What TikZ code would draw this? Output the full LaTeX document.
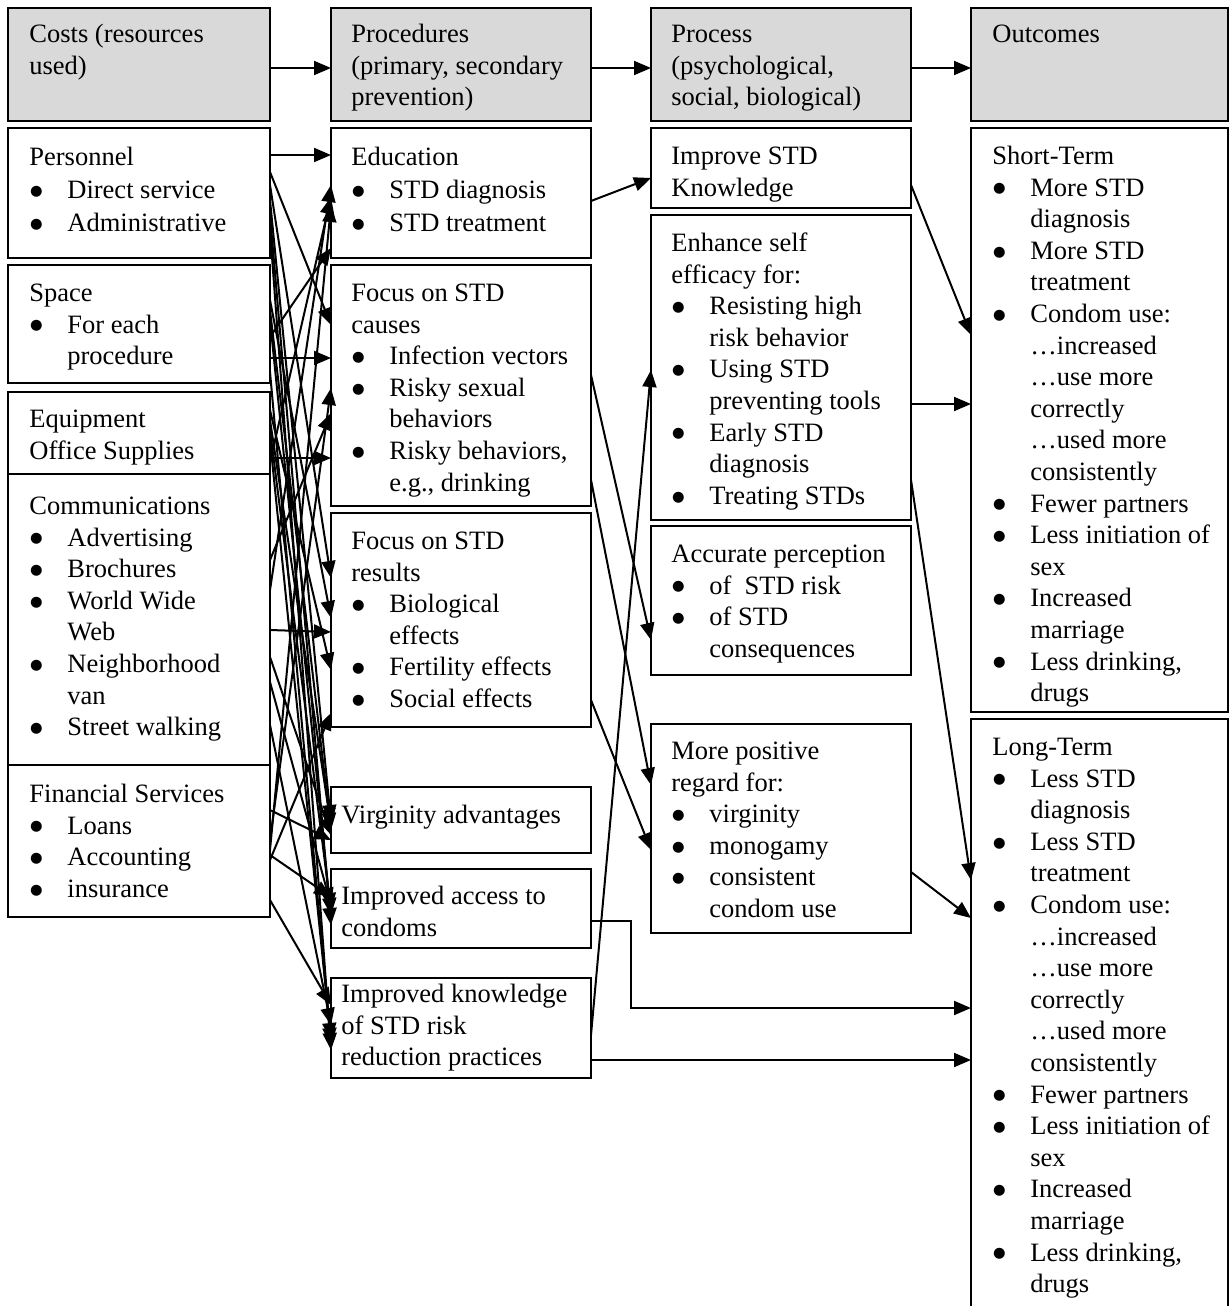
\documentclass[tikz,border=0pt]{standalone}
\usepackage{fontspec}
\setmainfont{Liberation Serif}
\newfontfamily\symfont{DejaVu Sans}
\usetikzlibrary{arrows.meta}

% bullet item and continuation line inside a text block
\newcommand\bi{\hspace*{0.4pt}\makebox[18.6pt][l]{\raisebox{1.6pt}{\symfont\fontsize{7.2}{8}\selectfont ●}}}
\newcommand\ci{\hspace*{19pt}}
% framed box node given by its corners (in px units)
\newcommand\placebox[6]{\node[#6, anchor=north west, inner sep=0pt, outer sep=0pt,
  minimum width={(#4-#2)*0.5pt}, minimum height={(#5-#3)*0.5pt}] (#1) at (#2,#3) {};}

\tikzset{
  box/.style={draw, line width=1pt},
  hdr/.style={box, fill=gray!30},
  txt/.style={anchor=north west, inner sep=0pt, align=left,
    font=\fontsize{13.25}{15.8}\selectfont},
  txtwide/.style={txt, font=\fontsize{13.25}{16.5}\selectfont},
  link/.style={line width=1pt, -{Triangle[length=8.5pt,width=7pt]}},
}

\begin{document}
\begin{tikzpicture}[x=0.5pt,y=-0.5pt]
\useasboundingbox (0,0) rectangle (1229,1306);

% ---- column headers
\placebox{hcost}{8}{8}{270}{121}{hdr}
\placebox{hproc}{331}{8}{591}{121}{hdr}
\placebox{hprocess}{651}{8}{911}{121}{hdr}
\placebox{hout}{971}{8}{1228}{121}{hdr}
\node[txt] (t-hcost) at (29,20) {\strut Costs (resources\\used)};
\node[txt] (t-hproc) at (351,20) {\strut Procedures\\(primary, secondary\\prevention)};
\node[txt] (t-hprocess) at (671,20) {\strut Process\\(psychological,\\social, biological)};
\node[txt] (t-hout) at (992,20) {\strut Outcomes};

% ---- costs
\placebox{personnel}{8}{128}{270}{258}{box}
\placebox{space}{8}{265}{270}{383}{box}
\placebox{equipment}{8}{392}{270}{474}{box}
\placebox{comm}{8}{474}{270}{765}{box}
\placebox{finance}{8}{765}{270}{917}{box}
\node[txtwide] (t-personnel) at (29,142) {\strut Personnel\\\bi Direct service\\\bi Administrative};
\node[txt] (t-space) at (29,279) {\strut Space\\\bi For each\\\ci procedure};
\node[txt] (t-equipment) at (29,405) {\strut Equipment\\Office Supplies};
\node[txt] (t-comm) at (29,492) {\strut Communications\\\bi Advertising\\\bi Brochures\\\bi World Wide\\\ci Web\\\bi Neighborhood\\\ci van\\\bi Street walking};
\node[txt] (t-finance) at (29,780) {\strut Financial Services\\\bi Loans\\\bi Accounting\\\bi insurance};

% ---- procedures
\placebox{education}{331}{128}{591}{258}{box}
\placebox{causes}{331}{265}{591}{506}{box}
\placebox{results}{331}{513}{591}{727}{box}
\placebox{virgin}{331}{787}{591}{853}{box}
\placebox{access}{331}{869}{591}{948}{box}
\placebox{knowledge}{331}{978}{591}{1078}{box}
\node[txtwide] (t-education) at (351,142) {\strut Education\\\bi STD diagnosis\\\bi STD treatment};
\node[txt] (t-causes) at (351,279) {\strut Focus on STD\\causes\\\bi Infection vectors\\\bi Risky sexual\\\ci behaviors\\\bi Risky behaviors,\\\ci e.g., drinking};
\node[txt] (t-results) at (351,527) {\strut Focus on STD\\results\\\bi Biological\\\ci effects\\\bi Fertility effects\\\bi Social effects};
\node[txt] (t-virgin) at (341,801) {\strut Virginity advantages};
\node[txt] (t-access) at (341,882) {\strut Improved access to\\condoms};
\node[txt] (t-knowledge) at (341,980) {\strut Improved knowledge\\of STD risk\\reduction practices};

% ---- process
\placebox{improve}{651}{128}{911}{208}{box}
\placebox{enhance}{651}{215}{911}{520}{box}
\placebox{accurate}{651}{526}{911}{675}{box}
\placebox{positive}{651}{724}{911}{933}{box}
\node[txt] (t-improve) at (671,142) {\strut Improve STD\\Knowledge};
\node[txt] (t-enhance) at (671,229) {\strut Enhance self\\efficacy for:\\\bi Resisting high\\\ci risk behavior\\\bi Using STD\\\ci preventing tools\\\bi Early STD\\\ci diagnosis\\\bi Treating STDs};
\node[txt] (t-accurate) at (671,540) {\strut Accurate perception\\\bi of~ STD risk\\\bi of STD\\\ci consequences};
\node[txt] (t-positive) at (671,737) {\strut More positive\\regard for:\\\bi virginity\\\bi monogamy\\\bi consistent\\\ci condom use};

% ---- outcomes
\placebox{short}{971}{128}{1228}{712}{box}
\placebox{long}{971}{719}{1228}{1312}{box}
\node[txt] (t-short) at (992,142) {\strut Short-Term\\\bi More STD\\\ci diagnosis\\\bi More STD\\\ci treatment\\\bi Condom use:\\\ci …increased\\\ci …use more\\\ci correctly\\\ci …used more\\\ci consistently\\\bi Fewer partners\\\bi Less initiation of\\\ci sex\\\bi Increased\\\ci marriage\\\bi Less drinking,\\\ci drugs};
\node[txt] (t-long) at (992,733) {\strut Long-Term\\\bi Less STD\\\ci diagnosis\\\bi Less STD\\\ci treatment\\\bi Condom use:\\\ci …increased\\\ci …use more\\\ci correctly\\\ci …used more\\\ci consistently\\\bi Fewer partners\\\bi Less initiation of\\\ci sex\\\bi Increased\\\ci marriage\\\bi Less drinking,\\\ci drugs};

% ---- header flow
\draw[link] (hcost.east |- 0,68) -- (hproc.west |- 0,68);
\draw[link] (hproc.east |- 0,68) -- (hprocess.west |- 0,68);
\draw[link] (hprocess.east |- 0,68) -- (hout.west |- 0,68);

% ---- every cost feeds every procedure
\foreach \a/\ya/\b/\yb in {
  personnel/155/education/155, personnel/172/causes/325, personnel/185/results/578,
  personnel/200/virgin/822, personnel/215/access/925, personnel/230/knowledge/1050,
  space/337/education/248, space/358/causes/358, space/300/results/618,
  space/310/virgin/830, space/320/access/915, space/372/knowledge/1045,
  equipment/462/education/197, equipment/458/causes/458, equipment/410/results/670,
  equipment/420/virgin/826, equipment/430/access/910, equipment/440/knowledge/1040,
  comm/590/education/185, comm/560/causes/413, comm/630/results/632,
  comm/657/virgin/835, comm/682/access/905, comm/725/knowledge/1025,
  finance/850/education/205, finance/840/causes/388, finance/860/results/713,
  finance/810/virgin/840, finance/855/access/897, finance/900/knowledge/1005}
  \draw[link] (\a.east |- 0,\ya) -- (\b.west |- 0,\yb);

% ---- procedures to process
\draw[link] (education.east |- 0,201) -- (improve.west |- 0,178);
\draw[link] (causes.east |- 0,375) -- (accurate.west |- 0,640);
\draw[link] (causes.east |- 0,480) -- (positive.west |- 0,785);
\draw[link] (results.east |- 0,700) -- (positive.west |- 0,850);
\draw[link] (knowledge.east |- 0,1035) -- (enhance.west |- 0,370);

% ---- process (and procedures) to outcomes
\draw[link] (improve.east |- 0,185) -- (short.west |- 0,335);
\draw[link] (enhance.east |- 0,404) -- (short.west |- 0,404);
\draw[link] (enhance.east |- 0,480) -- (long.west |- 0,880);
\draw[link] (positive.east |- 0,872) -- (long.west |- 0,918);
\draw[link] (access.east |- 0,921) -- ++(40,0) |- (long.west |- 0,1008);
\draw[link] (knowledge.east |- 0,1060) -- (long.west |- 0,1060);
\end{tikzpicture}
\end{document}
